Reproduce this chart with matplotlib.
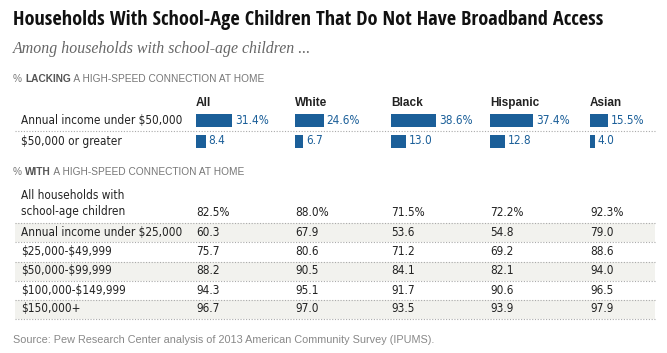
import matplotlib.pyplot as plt
from matplotlib.patches import Rectangle

plt.rcParams['text.parse_math'] = False

# data
groups = ['All', 'White', 'Black', 'Hispanic', 'Asian']
lacking_rows = ['Annual income under $50,000', '$50,000 or greater']
lacking_under50 = [31.4, 24.6, 38.6, 37.4, 15.5]
lacking_over50 = [8.4, 6.7, 13.0, 12.8, 4.0]

with_rows = ['All households with\nschool-age children', 'Annual income under $25,000',
             '$25,000-$49,999', '$50,000-$99,999', '$100,000-$149,999', '$150,000+']
with_all = [82.5, 60.3, 75.7, 88.2, 94.3, 96.7]
with_white = [88.0, 67.9, 80.6, 90.5, 95.1, 97.0]
with_black = [71.5, 53.6, 71.2, 84.1, 91.7, 93.5]
with_hispanic = [72.2, 54.8, 69.2, 82.1, 90.6, 93.9]
with_asian = [92.3, 79.0, 88.6, 94.0, 96.5, 97.9]

BLUE = '#1b5f99'
TXT = '#222222'
GRAY = '#777777'
SANS = 'Liberation Sans'
BODY = dict(family='DejaVu Sans', stretch='condensed', fontsize=8.5)

fig = plt.figure(figsize=(6.67, 3.53), dpi=100)
ax = fig.add_axes([0, 0, 1, 1])
ax.set_xlim(0, 667)
ax.set_ylim(353, 0)
ax.axis('off')

col_x = [196, 295, 391, 490, 590]
px_per_pct = 1.16

# title block
ax.text(13, 20, 'Households With School-Age Children That Do Not Have Broadband Access',
        fontsize=14.6, fontweight='bold', family='Open Sans Condensed', stretch='condensed',
        color='#111111', va='center')
ax.text(13, 49, 'Among households with school-age children ...', fontsize=11.4,
        style='italic', family='Liberation Serif', color='#666666', va='center')

def section_label(y, bold_word, rest):
    t = ax.text(13, y, '% ', fontsize=7.3, family=SANS, color=GRAY, va='center')
    t2 = ax.annotate(bold_word, xycoords=t, xy=(1, 0.5), va='center', fontsize=7.3,
                     family=SANS, color='#555555', fontweight='bold')
    ax.annotate(' ' + rest, xycoords=t2, xy=(1, 0.5), va='center', fontsize=7.3,
                family=SANS, color=GRAY)

section_label(79, 'LACKING', 'A HIGH-SPEED CONNECTION AT HOME')

for x, g in zip(col_x, groups):
    ax.text(x, 103, g, fontsize=8.5, fontweight='bold', family=SANS, color=TXT, va='center')

# lacking bars
bar_y = [120, 141]
for lab, y in zip(lacking_rows, bar_y):
    ax.text(21, y, lab, color=TXT, va='center', **BODY)
for j, x in enumerate(col_x):
    vals = [lacking_under50[j], lacking_over50[j]]
    ax.barh(bar_y, [v * px_per_pct for v in vals], left=x, height=13, color=BLUE)
    for i, (v, y) in enumerate(zip(vals, bar_y)):
        s = f'{v:.1f}%' if i == 0 else f'{v:.1f}'
        ax.text(x + v * px_per_pct + 3, y, s, color=BLUE, va='center', **BODY)
ax.plot([15, 655], [130.5, 130.5], linestyle=(0, (1, 1.5)), color='#aaaaaa', lw=0.8)

section_label(172, 'WITH', 'A HIGH-SPEED CONNECTION AT HOME')

# table
row_y = [213, 232, 251.5, 271, 290, 309]
lines_y = [222.5, 242, 261.5, 280.5, 299.5, 318.5]
for i, y in enumerate(row_y):
    if i % 2 == 1:
        ax.add_patch(Rectangle((15, lines_y[i - 1]), 640, lines_y[i] - lines_y[i - 1],
                               color='#f2f2ee', lw=0, zorder=0))
for y in lines_y:
    ax.plot([15, 655], [y, y], linestyle=(0, (1, 1.5)), color='#aaaaaa', lw=0.8)

cols = [with_all, with_white, with_black, with_hispanic, with_asian]
for i, (lab, y) in enumerate(zip(with_rows, row_y)):
    if '\n' in lab:
        ax.text(21, y + 5.5, lab, color=TXT, va='bottom', linespacing=1.35, **BODY)
    else:
        ax.text(21, y, lab, color=TXT, va='center', **BODY)
    for x, col in zip(col_x, cols):
        s = f'{col[i]:.1f}%' if i == 0 else f'{col[i]:.1f}'
        ax.text(x, y, s, color=TXT, va='center', **BODY)

ax.text(13, 340, 'Source: Pew Research Center analysis of 2013 American Community Survey (IPUMS).',
        fontsize=7.8, family=SANS, color='#888888', va='center')

fig.savefig('out.png', dpi=100)
